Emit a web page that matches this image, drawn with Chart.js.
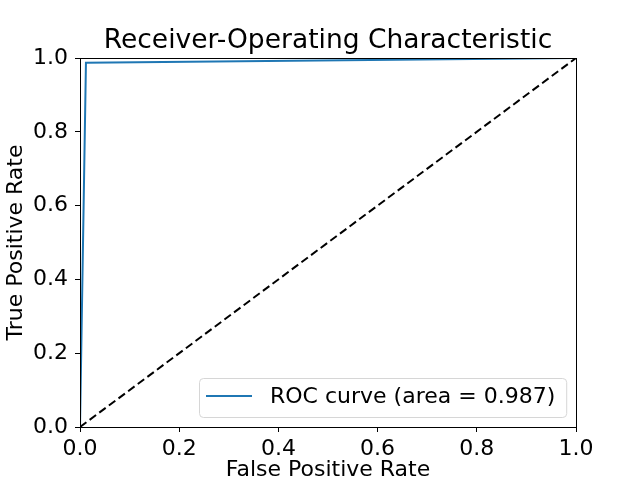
<!DOCTYPE html>
<html>
<head>
<meta charset="utf-8">
<script src="https://cdn.jsdelivr.net/npm/chart.js@4"></script>
<style>
  html, body { margin: 0; padding: 0; background: #fff; }
  #wrap { width: 640px; height: 480px; }
</style>
</head>
<body>
<div id="wrap"><canvas id="roc" width="640" height="480"></canvas></div>
<script>
// ROC points
var fpr = [0, 0.012, 1];
var tpr = [0, 0.987, 1];
var chanceX = [0, 1];
var chanceY = [0, 1];
var rocLabel = 'ROC curve (area = 0.987)';
var chartTitle = 'Receiver-Operating Characteristic';
var tickValues = [0, 0.2, 0.4, 0.6, 0.8, 1.0];

var FONT = 'DejaVu Sans';

function toPoints(xs, ys) {
    return xs.map(function (x, i) { return { x: x, y: ys[i] }; });
}

// frame around the plot area plus a title centred over the axes
var framePlugin = {
    id: 'frame',
    afterDatasetsDraw: function (chart) {
        var a = chart.chartArea;
        var ctx = chart.ctx;
        ctx.save();
        ctx.strokeStyle = '#000';
        ctx.lineWidth = 1;
        ctx.strokeRect(Math.round(a.left) + 0.5, Math.round(a.top) + 0.5,
            Math.round(a.right - a.left), Math.round(a.bottom - a.top));
        ctx.fillStyle = '#000';
        ctx.font = '26.5px ' + FONT;
        ctx.textAlign = 'center';
        ctx.textBaseline = 'alphabetic';
        ctx.fillText(chartTitle, (a.left + a.right) / 2, a.top - 10);
        ctx.restore();
    }
};

// legend drawn inside the axes, lower right
var innerLegend = {
    id: 'innerLegend',
    afterDraw: function (chart) {
        var a = chart.chartArea;
        var ctx = chart.ctx;
        var ds = chart.data.datasets[0];
        ctx.save();
        ctx.font = '22px ' + FONT;
        var textW = ctx.measureText(ds.label).width;
        var boxW = 7 + 46 + 18 + textW + 11;
        var boxH = 39;
        var x = Math.round(a.right - 10 - boxW);
        var y = Math.round(a.bottom - 10 - boxH);
        ctx.fillStyle = 'rgba(255,255,255,0.8)';
        ctx.strokeStyle = '#d6d6d6';
        ctx.lineWidth = 1;
        ctx.beginPath();
        if (ctx.roundRect) ctx.roundRect(x + 0.5, y + 0.5, boxW, boxH, 4);
        else ctx.rect(x + 0.5, y + 0.5, boxW, boxH);
        ctx.fill();
        ctx.stroke();
        ctx.strokeStyle = ds.borderColor;
        ctx.lineWidth = 2;
        ctx.beginPath();
        ctx.moveTo(x + 7, y + 18);
        ctx.lineTo(x + 53, y + 18);
        ctx.stroke();
        ctx.fillStyle = '#000';
        ctx.textBaseline = 'middle';
        ctx.fillText(ds.label, x + 71, y + 19);
        ctx.restore();
    }
};

new Chart(document.getElementById('roc').getContext('2d'), {
    type: 'scatter',
    data: {
        datasets: [
            {
                label: rocLabel,
                data: toPoints(fpr, tpr),
                showLine: true,
                borderColor: '#1f77b4',
                backgroundColor: '#1f77b4',
                borderWidth: 2,
                pointRadius: 0,
                tension: 0
            },
            {
                label: 'chance',
                data: toPoints(chanceX, chanceY),
                showLine: true,
                borderColor: '#000',
                borderWidth: 2,
                borderDash: [8, 4],
                pointRadius: 0,
                tension: 0
            }
        ]
    },
    options: {
        responsive: false,
        animation: false,
        layout: { padding: { left: 0, right: 64, top: 58, bottom: -3 } },
        plugins: {
            legend: { display: false },
            tooltip: { enabled: false },
            title: { display: false }
        },
        scales: {
            x: {
                type: 'linear',
                min: 0,
                max: 1,
                afterFit: function (scale) { scale.height = 56; },
                afterBuildTicks: function (scale) {
                    scale.ticks = tickValues.map(function (v) { return { value: v }; });
                },
                border: { display: true, color: '#000', width: 1 },
                grid: { drawOnChartArea: false, drawTicks: true, tickLength: 5, tickColor: '#000' },
                ticks: {
                    color: '#000',
                    padding: 4,
                    maxRotation: 0,
                    font: { family: FONT, size: 22 },
                    callback: function (v) { return Number(v).toFixed(1); }
                },
                title: {
                    display: true,
                    text: 'False Positive Rate',
                    color: '#000',
                    font: { family: FONT, size: 22 },
                    padding: { top: 0, bottom: 0 }
                }
            },
            y: {
                type: 'linear',
                min: 0,
                max: 1,
                afterFit: function (scale) { scale.width = 80; },
                afterBuildTicks: function (scale) {
                    scale.ticks = tickValues.map(function (v) { return { value: v }; });
                },
                border: { display: true, color: '#000', width: 1 },
                grid: { drawOnChartArea: false, drawTicks: true, tickLength: 5, tickColor: '#000' },
                ticks: {
                    color: '#000',
                    padding: 7,
                    font: { family: FONT, size: 22 },
                    callback: function (v) { return Number(v).toFixed(1); }
                },
                title: {
                    display: true,
                    text: 'True Positive Rate',
                    color: '#000',
                    font: { family: FONT, size: 22 },
                    padding: { top: 3, bottom: 0 }
                }
            }
        }
    },
    plugins: [framePlugin, innerLegend]
});
</script>
</body>
</html>
